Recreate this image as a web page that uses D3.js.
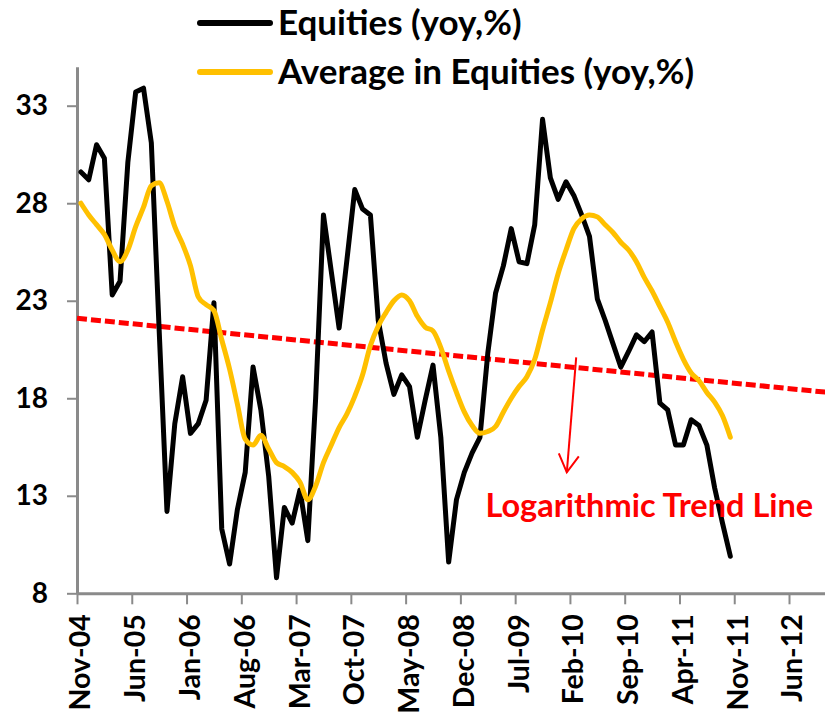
<!DOCTYPE html>
<html>
<head>
<meta charset="utf-8">
<script src="https://cdn.jsdelivr.net/npm/d3@7/dist/d3.min.js"></script>
<style>
  body { margin: 0; background: #fff; }
  svg { display: block; font-family: Lato, "Open Sans", sans-serif; font-weight: bold; }
</style>
</head>
<body>
<div id="chart"></div>
<script>
// months since Nov-04, each observation sits mid-month
var monthPos = d3.range(84).map(function(i) { return i + 0.5; });

var equities = [29.6, 29.2, 31.0, 30.3, 23.3, 24.0, 30.1, 33.7, 33.9, 31.1,
  21.5, 12.2, 16.7, 19.1, 16.2, 16.7, 17.9, 22.9, 11.3, 9.5,
  12.3, 14.2, 19.6, 17.4, 14.0, 8.8, 12.4, 11.6, 13.3, 10.7,
  18.0, 27.4, 24.5, 21.6, 25.1, 28.7, 27.7, 27.4, 22.0, 19.8,
  18.2, 19.2, 18.6, 16.0, 17.9, 19.7, 16.0, 9.6, 12.8, 14.2,
  15.2, 16.0, 20.3, 23.4, 24.8, 26.7, 25.0, 24.9, 26.9, 32.3,
  29.3, 28.2, 29.1, 28.4, 27.4, 26.3, 23.1, 22.0, 20.8, 19.6,
  20.4, 21.25, 20.9, 21.4, 17.75, 17.4, 15.6, 15.6, 16.9, 16.6,
  15.6, 13.4, 11.6, 9.9];

var average = [28.0, 27.4, 26.9, 26.4, 25.6, 25.0, 25.6, 26.8, 27.8, 28.9,
  29.05, 28.1, 26.8, 25.9, 24.8, 23.2, 22.8, 22.5, 21.0, 19.5,
  17.7, 15.9, 15.6, 16.1, 15.4, 14.7, 14.5, 14.2, 13.7, 12.8,
  13.5, 14.7, 15.6, 16.5, 17.2, 18.1, 19.2, 20.7, 21.7, 22.4,
  23.0, 23.3, 23.0, 22.2, 21.65, 21.45, 20.6, 19.4, 18.3, 17.3,
  16.6, 16.2, 16.3, 16.55, 17.3, 18.0, 18.6, 19.1, 20.0, 21.5,
  22.9, 24.4, 25.6, 26.7, 27.2, 27.4, 27.3, 26.9, 26.5, 26.0,
  25.6, 25.0, 24.2, 23.5, 22.7, 21.9, 20.9, 20.0, 19.3, 18.9,
  18.3, 17.8, 17.1, 16.0];

var tickLabels = ["Nov-04", "Jun-05", "Jan-06", "Aug-06", "Mar-07", "Oct-07", "May-08",
  "Dec-08", "Jul-09", "Feb-10", "Sep-10", "Apr-11", "Nov-11", "Jun-12"];
var yTicks = [8, 13, 18, 23, 28, 33];

// logarithmic trend line as drawn (nearly straight over this span)
var trendMonths = [0, 96];
var trendValues = [22.1, 18.3];

var svgWidth = 825;
var svgHeight = 721;

var svg = d3.select("#chart")
  .append("svg")
  .attr("width", svgWidth)
  .attr("height", svgHeight);

var xScale = d3.scaleLinear()
  .domain([0, 95.6])
  .range([77, 825]);

var yScale = d3.scaleLinear()
  .domain([8, 35])
  .range([593.3, 66.7]);

var axisColor = "#8a8a8a";

// x axis
var xAxis = svg.append("g")
  .attr("transform", "translate(0," + yScale(8) + ")")
  .call(d3.axisBottom(xScale)
    .tickValues(d3.range(0, 92, 7))
    .tickFormat(function(d, i) { return tickLabels[i]; })
    .tickSize(11)
    .tickSizeOuter(0));

xAxis.select(".domain").attr("stroke", axisColor).attr("stroke-width", 3);
xAxis.selectAll(".tick line").attr("stroke", axisColor).attr("stroke-width", 2);
xAxis.selectAll(".tick text")
  .attr("transform", "rotate(-90)")
  .attr("x", -21)
  .attr("y", 3)
  .attr("dy", "0.35em")
  .attr("text-anchor", "end")
  .attr("fill", "#000")
  .style("font-size", "28.5px")
  .style("font-family", "Lato, sans-serif")
  .style("font-weight", "bold");

// y axis
var yAxis = svg.append("g")
  .attr("transform", "translate(" + xScale(0) + ",0)")
  .call(d3.axisLeft(yScale)
    .tickValues(yTicks)
    .tickSize(10)
    .tickPadding(19)
    .tickSizeOuter(0));

yAxis.select(".domain").attr("stroke", axisColor).attr("stroke-width", 3);
yAxis.selectAll(".tick line").attr("stroke", axisColor).attr("stroke-width", 2);
yAxis.selectAll(".tick text")
  .attr("fill", "#000")
  .style("font-size", "28px")
  .style("font-family", "Lato, sans-serif")
  .style("font-weight", "bold");

// trend line
var trendLine = d3.line()
  .x(function(d) { return xScale(d[0]); })
  .y(function(d) { return yScale(d[1]); });

svg.append("path")
  .datum(d3.zip(trendMonths, trendValues))
  .attr("d", trendLine)
  .attr("fill", "none")
  .attr("stroke", "#ff0000")
  .attr("stroke-width", 5)
  .attr("stroke-dasharray", "10,4");

// series
var seriesLine = d3.line()
  .x(function(d) { return xScale(d[0]); })
  .y(function(d) { return yScale(d[1]); });

svg.append("path")
  .datum(d3.zip(monthPos, equities))
  .attr("d", seriesLine)
  .attr("fill", "none")
  .attr("stroke", "#000")
  .attr("stroke-width", 5)
  .attr("stroke-linejoin", "round")
  .attr("stroke-linecap", "round");

svg.append("path")
  .datum(d3.zip(monthPos, average))
  .attr("d", seriesLine.curve(d3.curveMonotoneX))
  .attr("fill", "none")
  .attr("stroke", "#ffc000")
  .attr("stroke-width", 5)
  .attr("stroke-linejoin", "round")
  .attr("stroke-linecap", "round");

// annotation arrow + label
var arrowFrom = [63.8, 20.1];
var arrowTo = [62.6, 14.2];

svg.append("line")
  .attr("x1", xScale(arrowFrom[0]))
  .attr("y1", yScale(arrowFrom[1]))
  .attr("x2", xScale(arrowTo[0]))
  .attr("y2", yScale(arrowTo[1]))
  .attr("stroke", "#ff0000")
  .attr("stroke-width", 2);

var ax = xScale(arrowTo[0]), ay = yScale(arrowTo[1]);
svg.append("path")
  .attr("d", "M" + (ax - 8) + "," + (ay - 19) + "L" + ax + "," + ay + "L" + (ax + 12) + "," + (ay - 16))
  .attr("fill", "none")
  .attr("stroke", "#ff0000")
  .attr("stroke-width", 2);

svg.append("text")
  .attr("x", xScale(52.2))
  .attr("y", yScale(11.9))
  .attr("fill", "#ff0000")
  .style("font-size", "32.5px")
  .text("Logarithmic Trend Line");

// legend
var legend = [
  { name: "Equities (yoy,%)", color: "#000", y: 23 },
  { name: "Average in Equities (yoy,%)", color: "#ffc000", y: 72 }
];

var legendItems = svg.selectAll(".legend")
  .data(legend)
  .enter()
  .append("g")
  .attr("class", "legend");

legendItems.append("line")
  .attr("x1", 200)
  .attr("x2", 270)
  .attr("y1", function(d) { return d.y; })
  .attr("y2", function(d) { return d.y; })
  .attr("stroke", function(d) { return d.color; })
  .attr("stroke-width", 6)
  .attr("stroke-linecap", "round");

legendItems.append("text")
  .attr("x", 278)
  .attr("y", function(d) { return d.y + 12; })
  .attr("fill", "#000")
  .style("font-size", "35px")
  .text(function(d) { return d.name; });
</script>
</body>
</html>
